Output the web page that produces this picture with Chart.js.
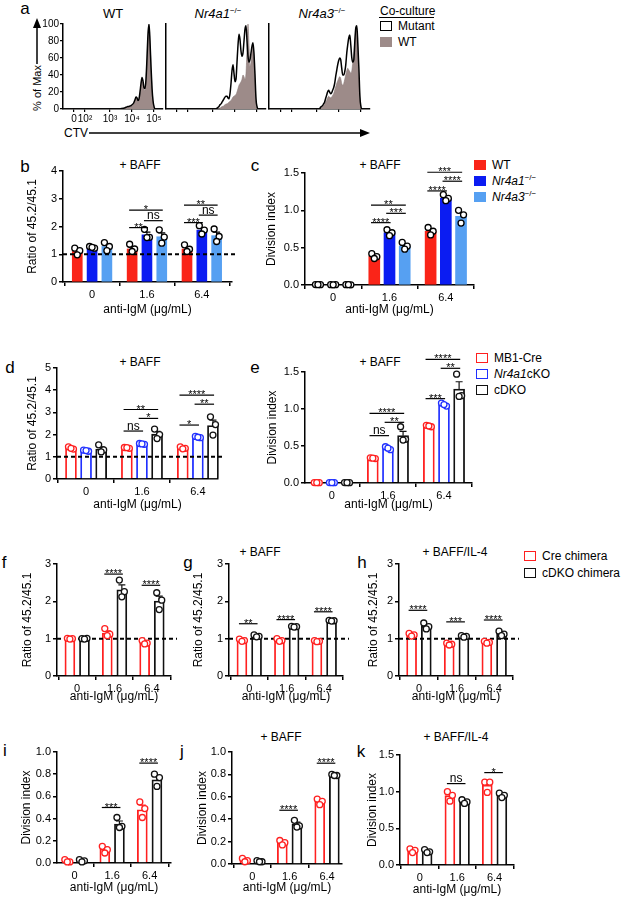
<!DOCTYPE html>
<html>
<head>
<meta charset="utf-8">
<script src="https://cdn.jsdelivr.net/npm/chart.js@4.4.1/dist/chart.umd.min.js"></script>
<style>
  body { margin: 0; width: 626px; height: 900px; position: relative; overflow: hidden; background: #fff;
         font-family: Arial, "Liberation Sans", Helvetica, sans-serif; color: #000; }
  canvas { position: absolute; }
  .t { position: absolute; white-space: nowrap; font-size: 12px; line-height: 1; }
  .c { transform: translate(-50%, -50%); }
  .v { transform: translateY(-50%); }
  .lt { position: absolute; font-size: 17px; line-height: 1; transform: translate(-50%, -50%); }
  .sw { display: inline-block; width: 12px; height: 10px; vertical-align: -1px; margin-right: 6px; box-sizing: border-box; }
  sup { font-size: 8px; vertical-align: 5px; line-height: 0; }
  svg { position: absolute; left: 0; top: 0; }
</style>
</head>
<body>

<div class="lt" style="left:25px;top:8px">a</div>
<div class="lt" style="left:25px;top:166px">b</div>
<div class="lt" style="left:255px;top:165px">c</div>
<div class="lt" style="left:10px;top:367px">d</div>
<div class="lt" style="left:255px;top:367px">e</div>
<div class="lt" style="left:4px;top:562px">f</div>
<div class="lt" style="left:188px;top:562px">g</div>
<div class="lt" style="left:362px;top:562px">h</div>
<div class="lt" style="left:5px;top:750px">i</div>
<div class="lt" style="left:182px;top:751px">j</div>
<div class="lt" style="left:361px;top:751px">k</div>

<div class="t c" style="left:113px;top:13px;font-size:13px">WT</div>
<div class="t c" style="left:218px;top:13px;font-size:13px"><i>Nr4a1</i><sup>−/−</sup></div>
<div class="t c" style="left:322px;top:13px;font-size:13px"><i>Nr4a3</i><sup>−/−</sup></div>
<div class="t c" style="left:37px;top:88px;font-size:11px;transform:translate(-50%,-50%) rotate(-90deg)">% of Max</div>
<div class="t v" style="left:64px;top:133px">CTV</div>
<div class="t" style="left:380px;top:5px">Co-culture</div>
<div class="t v" style="left:380px;top:26px"><span class="sw" style="border:1.3px solid #000"></span>Mutant</div>
<div class="t v" style="left:380px;top:42px"><span class="sw" style="background:#9d8b89"></span>WT</div>

<div class="t c" style="left:140px;top:165px">+ BAFF</div>
<div class="t c" style="left:380px;top:165px">+ BAFF</div>
<div class="t c" style="left:140px;top:362px">+ BAFF</div>
<div class="t c" style="left:380px;top:362px">+ BAFF</div>
<div class="t c" style="left:260px;top:552px">+ BAFF</div>
<div class="t c" style="left:455px;top:552px">+ BAFF/IL-4</div>
<div class="t c" style="left:281px;top:737px">+ BAFF</div>
<div class="t c" style="left:456px;top:737px">+ BAFF/IL-4</div>

<div class="t v" style="left:474px;top:165px"><span class="sw" style="background:#fa2418"></span>WT</div>
<div class="t v" style="left:474px;top:181px"><span class="sw" style="background:#0b1cf2"></span><i>Nr4a1</i><sup>−/−</sup></div>
<div class="t v" style="left:474px;top:197px"><span class="sw" style="background:#56a0f2"></span><i>Nr4a3</i><sup>−/−</sup></div>
<div class="t v" style="left:476px;top:358px"><span class="sw" style="border:1.8px solid #ff2020"></span>MB1-Cre</div>
<div class="t v" style="left:476px;top:374px"><span class="sw" style="border:1.8px solid #2030ff"></span><i>Nr4a1</i>cKO</div>
<div class="t v" style="left:476px;top:390px"><span class="sw" style="border:1.8px solid #111"></span>cDKO</div>
<div class="t v" style="left:524px;top:556px"><span class="sw" style="border:1.8px solid #ff2020"></span>Cre chimera</div>
<div class="t v" style="left:524px;top:573px"><span class="sw" style="border:1.8px solid #111"></span>cDKO chimera</div>

<svg width="626" height="900">
  <line x1="37" y1="64" x2="37" y2="26" stroke="#000" stroke-width="1.5"/>
  <polygon points="37,18 33,28 41,28" fill="#000"/>
  <line x1="89" y1="133" x2="362" y2="133" stroke="#000" stroke-width="1.5"/>
  <polygon points="370,133 360,129 360,137" fill="#000"/>
  <line x1="379" y1="17.5" x2="434" y2="17.5" stroke="#000" stroke-width="1"/>
</svg>

<script>
Chart.defaults.font.family = 'Arial, "Liberation Sans", Helvetica, sans-serif';
Chart.defaults.color = '#000';
Chart.defaults.animation = false;
Chart.defaults.events = [];
Chart.defaults.plugins.legend.display = false;
Chart.defaults.plugins.tooltip.enabled = false;

// ---------- data ----------
const DOSES = ['0', '1.6', '6.4'];

// panel a: CTV histograms (channel, % of max)
const CH = [0, 50, 51, 52, 53, 54, 55, 56, 57, 58, 59, 60, 61, 62, 63, 64, 65, 66, 67, 68, 69, 70,
            71, 72, 73, 74, 75, 76, 77, 78, 79, 80, 81, 82, 83, 84, 85, 86, 87, 88, 89, 90, 91, 92, 100];
const CTV_TICKS = [11, 22, 47, 69, 91];
const CTV_LABELS = ['0', '10²', '10³', '10⁴', '10⁵'];
const MAX_TICKS = [0, 20, 40, 60, 80, 100];
const histWT_mut = [0, 0, 0, 0, 0, 0, 0, 0, 0, 0.5, 0.5, 1, 1, 1.5, 2, 2.5, 3, 3, 3.5, 4, 5, 6, 8, 11, 14, 13, 10,
                    12, 20, 30, 37, 33, 25, 24, 35, 60, 88, 100, 80, 50, 25, 10, 3, 0, 0];
const histWT_wt  = [0, 0, 0, 0, 0, 0, 0, 0, 0, 0.5, 0.5, 1, 1, 1.5, 2, 2, 2.5, 3, 3, 3.5, 4, 5, 7, 10, 13, 12, 9,
                    11, 18, 28, 35, 31, 23, 22, 33, 58, 86, 98, 78, 48, 24, 9, 2, 0, 0];
const hist1_mut  = [0, 0, 1, 2, 3, 5, 6, 8, 10, 12, 14, 15, 15, 13, 12, 18, 30, 45, 52, 42, 32, 35, 55, 75, 88, 82,
                    68, 62, 66, 80, 94, 98, 80, 62, 55, 58, 66, 74, 78, 65, 40, 12, 3, 0, 0];
const hist1_wt   = [0, 0, 0, 0.5, 1, 1, 2, 3, 3, 4, 5, 6, 6, 7, 8, 9, 10, 12, 14, 15, 16, 17, 20, 24, 28, 30, 32,
                    35, 40, 38, 35, 42, 70, 100, 75, 50, 55, 68, 75, 60, 35, 10, 2, 0, 0];
const hist3_mut  = [0, 0, 2, 3, 4, 6, 8, 12, 16, 20, 22, 20, 18, 19, 22, 25, 30, 38, 45, 52, 57, 60, 58, 48, 40, 40,
                    44, 52, 66, 76, 84, 87, 75, 60, 55, 58, 80, 96, 98, 75, 48, 15, 3, 0, 0];
const hist3_wt   = [0, 0, 1, 2, 3, 4, 6, 8, 10, 13, 15, 14, 13, 14, 16, 18, 22, 26, 30, 33, 36, 38, 36, 30, 28, 30,
                    35, 40, 45, 48, 46, 44, 42, 45, 55, 65, 80, 92, 95, 70, 40, 12, 2, 0, 0];

// panel b
const bWT = [1.10, 1.19, 1.19];
const bNr4a1 = [1.25, 1.70, 1.87];
const bNr4a3 = [1.28, 1.63, 1.67];
const bWTPts = [[1.22, 1.13, 0.98], [1.36, 1.19, 1.10], [1.34, 1.18, 1.10]];
const bNr4a1Pts = [[1.28, 1.22, 1.25], [1.90, 1.61, 1.60], [2.03, 1.87, 1.73]];
const bNr4a3Pts = [[1.42, 1.28, 1.13], [1.88, 1.62, 1.40], [1.91, 1.64, 1.46]];
const bSig = [[1, 0, 2, 2.59, '*'], [1, 1, 2, 2.21, 'ns'], [1, 0, 1, 1.96, '**'],
              [2, 0, 2, 2.77, '**'], [2, 1, 2, 2.41, 'ns'], [2, 0, 1, 2.14, '***']];

// panel c
const cWT = [0.005, 0.386, 0.72];
const cNr4a1 = [0.004, 0.70, 1.16];
const cNr4a3 = [0.004, 0.52, 0.92];
const cWTPts = [[0.006, 0.004, 0.005], [0.42, 0.38, 0.355], [0.77, 0.72, 0.67]];
const cNr4a1Pts = [[0.005, 0.004, 0.003], [0.74, 0.70, 0.66], [1.21, 1.16, 1.13]];
const cNr4a3Pts = [[0.005, 0.003, 0.004], [0.57, 0.52, 0.48], [1.00, 0.94, 0.83]];
const cSig = [[1, 0, 2, 1.07, '**'], [1, 1, 2, 0.96, '***'], [1, 0, 1, 0.835, '****'],
              [2, 0, 2, 1.51, '***'], [2, 1, 2, 1.39, '****'], [2, 0, 1, 1.26, '****']];

// panel d
const dCre = [1.38, 1.40, 1.40];
const dKO = [1.28, 1.58, 1.88];
const dDKO = [1.35, 2.02, 2.41];
const dCrePts = [[1.45, 1.35, 1.38], [1.42, 1.38, 1.41], [1.45, 1.38, 1.36]];
const dKOPts = [[1.30, 1.25, 1.28], [1.60, 1.56, 1.58], [1.92, 1.86, 1.88]];
const dDKOPts = [[1.54, 1.31, 1.22], [2.25, 2.00, 1.82], [2.80, 2.45, 1.98]];
const dSig = [[1, 0, 2, 3.13, '**'], [1, 1, 2, 2.73, '*'], [1, 0, 1, 2.16, 'ns'],
              [2, 0, 2, 3.78, '****'], [2, 1, 2, 3.37, '**'], [2, 0, 1, 2.43, '*']];

// panel e
const eCre = [0.005, 0.335, 0.77];
const eKO = [0.005, 0.47, 1.06];
const eDKO = [0.005, 0.64, 1.27];
const eCrePts = [[0.006, 0.004, 0.005], [0.34, 0.33, 0.335], [0.78, 0.76, 0.77]];
const eKOPts = [[0.006, 0.004, 0.005], [0.49, 0.45, 0.47], [1.08, 1.04, 1.06]];
const eDKOPts = [[0.006, 0.004, 0.005], [0.76, 0.59, 0.58], [1.47, 1.18, 1.17]];
const eSig = [[1, 0, 2, 0.94, '****'], [1, 1, 2, 0.82, '**'], [1, 0, 1, 0.64, 'ns'],
              [2, 0, 2, 1.67, '****'], [2, 1, 2, 1.55, '**'], [2, 0, 1, 1.14, '***']];

// panels f-h
const fCre = [1.00, 1.15, 0.89];
const fDKO = [1.00, 2.31, 2.01];
const fCrePts = [[1.01, 1.00, 0.99], [1.27, 1.12, 1.08], [0.95, 0.88, 0.86]];
const fDKOPts = [[1.00, 1.01, 0.99], [2.57, 2.26, 2.12], [2.23, 2.03, 1.78]];
const fSig = [[1, 0, 1, 2.73, '****'], [2, 0, 1, 2.43, '****']];

const gCre = [0.96, 0.96, 0.93];
const gDKO = [1.07, 1.32, 1.48];
const gCrePts = [[0.99, 0.95, 0.93], [1.00, 0.95, 0.93], [0.95, 0.93, 0.92]];
const gDKOPts = [[1.10, 1.06, 1.05], [1.33, 1.32, 1.31], [1.49, 1.48, 1.47]];
const gSig = [[0, 0, 1, 1.40, '**'], [1, 0, 1, 1.51, '****'], [2, 0, 1, 1.72, '****']];

const hCre = [1.10, 0.85, 0.90];
const hDKO = [1.33, 1.06, 1.13];
const hCrePts = [[1.14, 1.10, 1.07], [0.88, 0.85, 0.83], [0.93, 0.90, 0.88]];
const hDKOPts = [[1.42, 1.32, 1.26], [1.08, 1.06, 1.04], [1.20, 1.12, 1.08]];
const hSig = [[0, 0, 1, 1.76, '****'], [1, 0, 1, 1.45, '***'], [2, 0, 1, 1.50, '****']];

// panels i-k
const iCre = [0.02, 0.125, 0.48];
const iDKO = [0.02, 0.35, 0.75];
const iCrePts = [[0.03, 0.01, 0.01], [0.15, 0.12, 0.09], [0.55, 0.49, 0.41]];
const iDKOPts = [[0.03, 0.02, 0.01], [0.41, 0.33, 0.32], [0.80, 0.77, 0.69]];
const iSig = [[1, 0, 1, 0.50, '***'], [2, 0, 1, 0.90, '****']];

const jCre = [0.03, 0.19, 0.56];
const jDKO = [0.02, 0.355, 0.79];
const jCrePts = [[0.05, 0.03, 0.02], [0.21, 0.19, 0.17], [0.58, 0.56, 0.53]];
const jDKOPts = [[0.03, 0.02, 0.02], [0.39, 0.34, 0.33], [0.80, 0.79, 0.79]];
const jSig = [[1, 0, 1, 0.48, '****'], [2, 0, 1, 0.90, '****']];

const kCre = [0.20, 0.945, 1.09];
const kDKO = [0.18, 0.86, 0.95];
const kCrePts = [[0.22, 0.20, 0.17], [1.00, 0.95, 0.87], [1.13, 1.13, 0.99]];
const kDKOPts = [[0.21, 0.18, 0.17], [0.89, 0.86, 0.84], [0.98, 0.95, 0.92]];
const kSig = [[1, 0, 1, 1.11, 'ns'], [2, 0, 1, 1.26, '*']];

// ---------- helpers ----------
const RED_F = '#fa2418', BLUE_F = '#0b1cf2', LBLUE_F = '#56a0f2';
const RED = '#ff2020', BLUE = '#2030ff', BLACK = '#111';
const HIST_GREY = '#9d8b89';

function sem(a) {
  const m = a.reduce((s, v) => s + v, 0) / a.length;
  const v = a.reduce((s, x) => s + (x - m) ** 2, 0) / (a.length - 1);
  return Math.sqrt(v / a.length);
}

function addCanvas(left, top, w, h) {
  const c = document.createElement('canvas');
  c.width = w; c.height = h;
  c.style.left = left + 'px'; c.style.top = top + 'px';
  c.style.width = w + 'px'; c.style.height = h + 'px';
  document.body.appendChild(c);
  return c.getContext('2d');
}

function axisStyle() {
  return {
    border: { display: true, color: '#000', width: 1.5 },
    grid: { drawOnChartArea: false, drawTicks: true, tickLength: 4, color: '#000', lineWidth: 1.5 }
  };
}

// bar + dot panel
function barPanel(geo, series, sig, yAxis) {
  const padTop = 50, padRight = 12;
  const left = Math.round(geo.ax - geo.yw), top = Math.round(geo.top - padTop);
  const w = Math.round(geo.end + padRight - left), h = Math.round(geo.zero + geo.xt + 7 - top);
  const yW = geo.ax - left, padT = geo.top - top, padR = w - (geo.end - left), xH = h - (geo.zero - top);
  const ppu = (geo.end - geo.ax) / (geo.xMax - geo.xMin);
  const n = series.length;
  const offs = n === 3 ? [-0.27, 0, 0.27] : [-0.195, 0.195];
  const jit = [-2.5, 2.5, 0].map(p => p / ppu);
  const yTicks = [];
  for (let v = 0; v <= yAxis.max + 1e-9; v += yAxis.step) yTicks.push(+v.toFixed(3));

  const datasets = [];
  series.forEach((s, si) => {
    datasets.push({
      type: 'bar', order: 2, grouped: false, clip: false,
      data: s.mean.map((m, g) => ({ x: g + offs[si], y: m })),
      backgroundColor: s.filled ? s.color : '#fff',
      borderColor: s.color, borderWidth: s.filled ? 0 : 1.8,
      barThickness: geo.bw
    });
  });
  series.forEach((s, si) => {
    datasets.push({
      type: 'scatter', order: 1, clip: false,
      data: s.pts.flatMap((arr, g) => arr.map((v, k) => ({ x: g + offs[si] + jit[k], y: v }))),
      pointRadius: 3, pointBorderWidth: 1.3,
      pointBackgroundColor: '#fff', pointBorderColor: s.filled ? '#000' : s.color
    });
  });

  let barsDrawn = 0;
  const decor = {
    id: 'decor',
    beforeDatasetsDraw() { barsDrawn = 0; },
    afterDatasetDraw(chart, args) {
      if (args.meta.type !== 'bar') return;
      barsDrawn++;
      if (barsDrawn !== n) return;
      const { ctx, scales: { x, y }, chartArea } = chart;
      ctx.save();
      // error bars: mean + SEM of the replicate dots
      ctx.lineWidth = 1.2;
      series.forEach((s, si) => {
        ctx.strokeStyle = s.filled ? '#000' : s.color;
        s.pts.forEach((p, g) => {
          const m = s.mean[g], e = sem(p);
          const px = x.getPixelForValue(g + offs[si]);
          const y1 = y.getPixelForValue(m), y2 = y.getPixelForValue(m + e);
          if (y1 - y2 < 0.8) return;
          ctx.beginPath();
          ctx.moveTo(px, y1); ctx.lineTo(px, y2);
          ctx.moveTo(px - 3.5, y2); ctx.lineTo(px + 3.5, y2);
          ctx.stroke();
        });
      });
      // dashed reference at ratio = 1
      if (geo.ref) {
        const yy = y.getPixelForValue(1);
        ctx.strokeStyle = '#000'; ctx.lineWidth = 2; ctx.setLineDash([4, 3]);
        ctx.beginPath(); ctx.moveTo(chartArea.left, yy); ctx.lineTo(chartArea.right + 6, yy); ctx.stroke();
        ctx.setLineDash([]);
      }
      ctx.restore();
    },
    afterDatasetsDraw(chart) {
      // significance brackets
      const { ctx, scales: { x, y } } = chart;
      ctx.save();
      ctx.strokeStyle = '#000'; ctx.fillStyle = '#000'; ctx.lineWidth = 1.2;
      ctx.textAlign = 'center';
      sig.forEach(([g, s1, s2, lvl, label]) => {
        const x1 = x.getPixelForValue(g + offs[s1]) - 0.3 * geo.bw;
        const x2 = x.getPixelForValue(g + offs[s2]) + 0.1 * geo.bw;
        const yy = y.getPixelForValue(lvl);
        ctx.beginPath(); ctx.moveTo(x1, yy); ctx.lineTo(x2, yy); ctx.stroke();
        if (label === 'ns') {
          ctx.font = '12px Arial, "Liberation Sans", sans-serif';
          ctx.fillText(label, (x1 + x2) / 2, yy - 1.5);
        } else {
          ctx.font = '11px Arial, "Liberation Sans", sans-serif';
          ctx.fillText(label, (x1 + x2) / 2, yy + 3);
        }
      });
      ctx.restore();
    }
  };

  new Chart(addCanvas(left, top, w, h), {
    type: 'bar',
    data: { datasets },
    options: {
      responsive: false,
      layout: { padding: { top: padT, right: padR, left: 0, bottom: 0 } },
      scales: {
        x: {
          type: 'linear', offset: false, min: geo.xMin, max: geo.xMax,
          ...axisStyle(),
          afterBuildTicks: s => { s.ticks = [0, 1, 2].map(v => ({ value: v })); },
          afterFit: s => { s.height = xH; },
          ticks: { autoSkip: false, maxRotation: 0, padding: 2, font: { size: 11 }, callback: (v, i) => DOSES[i] },
          title: { display: true, text: 'anti-IgM (μg/mL)', font: { size: 12 }, padding: 0 }
        },
        y: {
          type: 'linear', min: 0, max: yAxis.max,
          ...axisStyle(),
          afterBuildTicks: s => { s.ticks = yTicks.map(v => ({ value: v })); },
          afterFit: s => { s.width = yW; },
          ticks: { autoSkip: false, padding: 2, font: { size: 11 }, callback: (v, i) => yTicks[i].toFixed(yAxis.dec) },
          title: { display: true, text: yAxis.title, font: { size: 12 }, padding: 0 }
        }
      }
    },
    plugins: [decor]
  });
}

// CTV histogram panel
function histPanel(axX, endX, mut, wt, labels) {
  const yTop = 24, yZero = 109;
  const yW = labels ? 27 : 4, padT = 8, xH = 19;
  const left = axX - yW, top = yTop - padT;
  const w = endX - left + 4, h = yZero + xH - top;
  new Chart(addCanvas(left, top, w, h), {
    type: 'line',
    data: {
      datasets: [
        { order: 2, data: CH.map((c, i) => ({ x: c, y: wt[i] })), fill: 'origin',
          backgroundColor: HIST_GREY, borderColor: '#8c7a78', borderWidth: 0.6,
          pointRadius: 0, cubicInterpolationMode: 'monotone' },
        { order: 1, data: CH.map((c, i) => ({ x: c, y: mut[i] })), fill: false,
          borderColor: '#000', borderWidth: 1.5, pointRadius: 0, cubicInterpolationMode: 'monotone' }
      ]
    },
    options: {
      responsive: false,
      layout: { padding: { top: padT, right: 4, left: 0, bottom: 0 } },
      scales: {
        x: {
          type: 'linear', min: 0, max: 100,
          border: { display: true, color: '#000', width: 1.5 },
          grid: { drawOnChartArea: false, drawTicks: true, tickLength: 3, color: '#000', lineWidth: 1.2 },
          afterBuildTicks: s => { s.ticks = CTV_TICKS.map(v => ({ value: v })); },
          afterFit: s => { s.height = xH; },
          ticks: { display: labels, autoSkip: false, maxRotation: 0, padding: 1, font: { size: 10 },
                   callback: (v, i) => CTV_LABELS[i] }
        },
        y: {
          type: 'linear', min: 0, max: 100,
          border: { display: true, color: '#000', width: 1.5 },
          grid: { drawOnChartArea: false, drawTicks: labels, tickLength: 3, color: '#000', lineWidth: 1.2 },
          afterBuildTicks: s => { s.ticks = MAX_TICKS.map(v => ({ value: v })); },
          afterFit: s => { s.width = yW; },
          ticks: { display: labels, autoSkip: false, padding: 1, font: { size: 10 }, callback: (v, i) => String(MAX_TICKS[i]) }
        }
      }
    }
  });
}

// ---------- build ----------
histPanel(63, 163, histWT_mut, histWT_wt, true);
histPanel(166, 266, hist1_mut, hist1_wt, false);
histPanel(269, 370, hist3_mut, hist3_wt, false);

const RATIO = 'Ratio of 45.2/45.1', DIV = 'Division index';

barPanel({ ax: 63, end: 232, top: 171, zero: 282, yw: 38, xt: 28, xMin: -0.53, xMax: 2.55, bw: 10, ref: true },
  [{ mean: bWT, pts: bWTPts, color: RED_F, filled: true },
   { mean: bNr4a1, pts: bNr4a1Pts, color: BLUE_F, filled: true },
   { mean: bNr4a3, pts: bNr4a3Pts, color: LBLUE_F, filled: true }],
  bSig, { max: 4, step: 1, dec: 0, title: RATIO });

barPanel({ ax: 305, end: 474, top: 173, zero: 285, yw: 41, xt: 25, xMin: -0.5, xMax: 2.5, bw: 11 },
  [{ mean: cWT, pts: cWTPts, color: RED_F, filled: true },
   { mean: cNr4a1, pts: cNr4a1Pts, color: BLUE_F, filled: true },
   { mean: cNr4a3, pts: cNr4a3Pts, color: LBLUE_F, filled: true }],
  cSig, { max: 1.5, step: 0.5, dec: 1, title: DIV });

barPanel({ ax: 57, end: 218, top: 368, zero: 479, yw: 32, xt: 26, xMin: -0.52, xMax: 2.36, bw: 11, ref: true },
  [{ mean: dCre, pts: dCrePts, color: RED },
   { mean: dKO, pts: dKOPts, color: BLUE },
   { mean: dDKO, pts: dDKOPts, color: BLACK }],
  dSig, { max: 5, step: 1, dec: 0, title: RATIO });

barPanel({ ax: 305, end: 472, top: 372, zero: 483, yw: 40, xt: 22, xMin: -0.48, xMax: 2.5, bw: 11 },
  [{ mean: eCre, pts: eCrePts, color: RED },
   { mean: eKO, pts: eKOPts, color: BLUE },
   { mean: eDKO, pts: eDKOPts, color: BLACK }],
  eSig, { max: 1.5, step: 0.5, dec: 1, title: DIV });

barPanel({ ax: 57, end: 171, top: 564, zero: 676, yw: 37, xt: 21, xMin: -0.54, xMax: 2.51, bw: 10, ref: true },
  [{ mean: fCre, pts: fCrePts, color: RED }, { mean: fDKO, pts: fDKOPts, color: BLACK }],
  fSig, { max: 3, step: 1, dec: 0, title: RATIO });

barPanel({ ax: 229, end: 343, top: 564, zero: 676, yw: 38, xt: 21, xMin: -0.54, xMax: 2.5, bw: 10, ref: true },
  [{ mean: gCre, pts: gCrePts, color: RED }, { mean: gDKO, pts: gDKOPts, color: BLACK }],
  gSig, { max: 3, step: 1, dec: 0, title: RATIO });

barPanel({ ax: 399, end: 513, top: 564, zero: 676, yw: 33, xt: 21, xMin: -0.53, xMax: 2.5, bw: 10, ref: true },
  [{ mean: hCre, pts: hCrePts, color: RED }, { mean: hDKO, pts: hDKOPts, color: BLACK }],
  hSig, { max: 3, step: 1, dec: 0, title: RATIO });

barPanel({ ax: 57, end: 171, top: 752, zero: 863, yw: 38, xt: 25, xMin: -0.47, xMax: 2.57, bw: 10 },
  [{ mean: iCre, pts: iCrePts, color: RED }, { mean: iDKO, pts: iDKOPts, color: BLACK }],
  iSig, { max: 1.0, step: 0.2, dec: 1, title: DIV });

barPanel({ ax: 232, end: 342, top: 752, zero: 864, yw: 37, xt: 24, xMin: -0.54, xMax: 2.4, bw: 10 },
  [{ mean: jCre, pts: jCrePts, color: RED }, { mean: jDKO, pts: jDKOPts, color: BLACK }],
  jSig, { max: 1.0, step: 0.2, dec: 1, title: DIV });

barPanel({ ax: 400, end: 514, top: 755, zero: 865, yw: 35, xt: 25, xMin: -0.53, xMax: 2.52, bw: 10 },
  [{ mean: kCre, pts: kCrePts, color: RED }, { mean: kDKO, pts: kDKOPts, color: BLACK }],
  kSig, { max: 1.5, step: 0.5, dec: 1, title: DIV });
</script>
</body>
</html>
